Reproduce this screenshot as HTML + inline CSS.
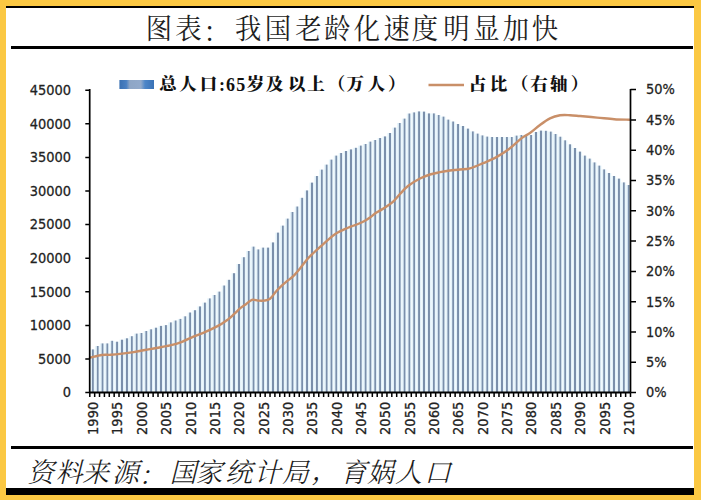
<!DOCTYPE html>
<html><head><meta charset="utf-8">
<style>
html,body{margin:0;padding:0;}
body{width:701px;height:500px;background:#FBC843;position:relative;overflow:hidden;}
.panel{position:absolute;left:6px;top:6px;width:688px;height:489px;background:#fff;}
.bar{position:absolute;background:#000;}
svg{position:absolute;left:0;top:0;}
.ax text{font-family:"DejaVu Sans","Liberation Sans",sans-serif;font-size:13px;fill:#222;stroke:#222;stroke-width:0.25px;}
.tt{font-family:"Liberation Serif","Noto Serif CJK SC",serif;font-size:28px;font-weight:400;fill:#1e1e1e;text-anchor:middle;}
.sr{font-family:"Liberation Serif","Noto Serif CJK SC",serif;font-size:27px;font-weight:300;font-style:italic;fill:#1a1a1a;text-anchor:middle;}
.lgc{font-family:"Liberation Serif","Noto Serif CJK SC",serif;font-size:17.5px;font-weight:900;fill:#111;text-anchor:middle;}
.lgd{font-family:"Liberation Serif","Noto Serif CJK SC",serif;font-size:18px;font-weight:700;fill:#111;text-anchor:middle;}
</style></head><body>
<div class="panel"></div>
<div class="bar" style="left:6px;top:6px;width:688px;height:2px"></div>
<div class="bar" style="left:11px;top:46px;width:682px;height:3.4px"></div>
<div class="bar" style="left:11px;top:446px;width:682px;height:3.4px"></div>
<div class="bar" style="left:6px;top:488.3px;width:688px;height:7px"></div>
<svg width="701" height="500" viewBox="0 0 701 500">
<defs>
<linearGradient id="bg" x1="0" x2="1" y1="0" y2="0">
<stop offset="0" stop-color="#eef9fd"/>
<stop offset="0.3" stop-color="#e0eff8"/>
<stop offset="0.43" stop-color="#7a8fab"/>
<stop offset="0.67" stop-color="#7a8fab"/>
<stop offset="0.8" stop-color="#e0eff8"/>
<stop offset="1" stop-color="#eef9fd"/>
</linearGradient>
<linearGradient id="lgd" x1="0" x2="1" y1="0" y2="0">
<stop offset="0" stop-color="#3a70b2"/>
<stop offset="0.2" stop-color="#4a80c2"/>
<stop offset="0.3" stop-color="#8ea6c6"/>
<stop offset="0.62" stop-color="#92aacb"/>
<stop offset="0.74" stop-color="#4d86c8"/>
<stop offset="1" stop-color="#3a72b6"/>
</linearGradient>
</defs>
<rect x="90.10" y="349.4" width="4.87" height="43.2" fill="url(#bg)"/>
<rect x="94.97" y="346.0" width="4.87" height="46.6" fill="url(#bg)"/>
<rect x="99.84" y="343.4" width="4.87" height="49.2" fill="url(#bg)"/>
<rect x="104.71" y="343.4" width="4.87" height="49.2" fill="url(#bg)"/>
<rect x="109.58" y="340.8" width="4.87" height="51.8" fill="url(#bg)"/>
<rect x="114.46" y="341.7" width="4.87" height="50.9" fill="url(#bg)"/>
<rect x="119.33" y="339.7" width="4.87" height="52.9" fill="url(#bg)"/>
<rect x="124.20" y="338.3" width="4.87" height="54.3" fill="url(#bg)"/>
<rect x="129.07" y="336.2" width="4.87" height="56.4" fill="url(#bg)"/>
<rect x="133.94" y="333.6" width="4.87" height="59.0" fill="url(#bg)"/>
<rect x="138.81" y="333.0" width="4.87" height="59.6" fill="url(#bg)"/>
<rect x="143.68" y="331.0" width="4.87" height="61.6" fill="url(#bg)"/>
<rect x="148.55" y="329.3" width="4.87" height="63.3" fill="url(#bg)"/>
<rect x="153.43" y="327.7" width="4.87" height="64.9" fill="url(#bg)"/>
<rect x="158.30" y="325.9" width="4.87" height="66.7" fill="url(#bg)"/>
<rect x="163.17" y="325.1" width="4.87" height="67.5" fill="url(#bg)"/>
<rect x="168.04" y="322.4" width="4.87" height="70.2" fill="url(#bg)"/>
<rect x="172.91" y="320.5" width="4.87" height="72.1" fill="url(#bg)"/>
<rect x="177.78" y="318.9" width="4.87" height="73.7" fill="url(#bg)"/>
<rect x="182.65" y="316.3" width="4.87" height="76.3" fill="url(#bg)"/>
<rect x="187.52" y="312.5" width="4.87" height="80.1" fill="url(#bg)"/>
<rect x="192.39" y="310.2" width="4.87" height="82.4" fill="url(#bg)"/>
<rect x="197.27" y="306.4" width="4.87" height="86.2" fill="url(#bg)"/>
<rect x="202.14" y="302.6" width="4.87" height="90.0" fill="url(#bg)"/>
<rect x="207.01" y="298.4" width="4.87" height="94.2" fill="url(#bg)"/>
<rect x="211.88" y="295.0" width="4.87" height="97.6" fill="url(#bg)"/>
<rect x="216.75" y="291.6" width="4.87" height="101.0" fill="url(#bg)"/>
<rect x="221.62" y="285.5" width="4.87" height="107.1" fill="url(#bg)"/>
<rect x="226.49" y="279.8" width="4.87" height="112.8" fill="url(#bg)"/>
<rect x="231.36" y="273.2" width="4.87" height="119.4" fill="url(#bg)"/>
<rect x="236.24" y="264.0" width="4.87" height="128.6" fill="url(#bg)"/>
<rect x="241.11" y="257.2" width="4.87" height="135.4" fill="url(#bg)"/>
<rect x="245.98" y="251.0" width="4.87" height="141.6" fill="url(#bg)"/>
<rect x="250.85" y="246.6" width="4.87" height="146.0" fill="url(#bg)"/>
<rect x="255.72" y="249.4" width="4.87" height="143.2" fill="url(#bg)"/>
<rect x="260.59" y="247.6" width="4.87" height="145.0" fill="url(#bg)"/>
<rect x="265.46" y="247.6" width="4.87" height="145.0" fill="url(#bg)"/>
<rect x="270.33" y="242.4" width="4.87" height="150.2" fill="url(#bg)"/>
<rect x="275.20" y="232.6" width="4.87" height="160.0" fill="url(#bg)"/>
<rect x="280.08" y="225.6" width="4.87" height="167.0" fill="url(#bg)"/>
<rect x="284.95" y="218.6" width="4.87" height="174.0" fill="url(#bg)"/>
<rect x="289.82" y="212.0" width="4.87" height="180.6" fill="url(#bg)"/>
<rect x="294.69" y="206.5" width="4.87" height="186.1" fill="url(#bg)"/>
<rect x="299.56" y="197.8" width="4.87" height="194.8" fill="url(#bg)"/>
<rect x="304.43" y="190.4" width="4.87" height="202.2" fill="url(#bg)"/>
<rect x="309.30" y="182.6" width="4.87" height="210.0" fill="url(#bg)"/>
<rect x="314.17" y="176.0" width="4.87" height="216.6" fill="url(#bg)"/>
<rect x="319.05" y="169.6" width="4.87" height="223.0" fill="url(#bg)"/>
<rect x="323.92" y="164.6" width="4.87" height="228.0" fill="url(#bg)"/>
<rect x="328.79" y="159.6" width="4.87" height="233.0" fill="url(#bg)"/>
<rect x="333.66" y="155.6" width="4.87" height="237.0" fill="url(#bg)"/>
<rect x="338.53" y="153.0" width="4.87" height="239.6" fill="url(#bg)"/>
<rect x="343.40" y="151.0" width="4.87" height="241.6" fill="url(#bg)"/>
<rect x="348.27" y="149.4" width="4.87" height="243.2" fill="url(#bg)"/>
<rect x="353.14" y="147.8" width="4.87" height="244.8" fill="url(#bg)"/>
<rect x="358.01" y="145.6" width="4.87" height="247.0" fill="url(#bg)"/>
<rect x="362.89" y="144.0" width="4.87" height="248.6" fill="url(#bg)"/>
<rect x="367.76" y="141.6" width="4.87" height="251.0" fill="url(#bg)"/>
<rect x="372.63" y="140.0" width="4.87" height="252.6" fill="url(#bg)"/>
<rect x="377.50" y="138.0" width="4.87" height="254.6" fill="url(#bg)"/>
<rect x="382.37" y="136.4" width="4.87" height="256.2" fill="url(#bg)"/>
<rect x="387.24" y="133.0" width="4.87" height="259.6" fill="url(#bg)"/>
<rect x="392.11" y="127.6" width="4.87" height="265.0" fill="url(#bg)"/>
<rect x="396.98" y="123.0" width="4.87" height="269.6" fill="url(#bg)"/>
<rect x="401.85" y="118.6" width="4.87" height="274.0" fill="url(#bg)"/>
<rect x="406.73" y="113.5" width="4.87" height="279.1" fill="url(#bg)"/>
<rect x="411.60" y="112.4" width="4.87" height="280.2" fill="url(#bg)"/>
<rect x="416.47" y="111.4" width="4.87" height="281.2" fill="url(#bg)"/>
<rect x="421.34" y="111.6" width="4.87" height="281.0" fill="url(#bg)"/>
<rect x="426.21" y="113.4" width="4.87" height="279.2" fill="url(#bg)"/>
<rect x="431.08" y="113.4" width="4.87" height="279.2" fill="url(#bg)"/>
<rect x="435.95" y="115.0" width="4.87" height="277.6" fill="url(#bg)"/>
<rect x="440.82" y="116.6" width="4.87" height="276.0" fill="url(#bg)"/>
<rect x="445.70" y="119.6" width="4.87" height="273.0" fill="url(#bg)"/>
<rect x="450.57" y="121.5" width="4.87" height="271.1" fill="url(#bg)"/>
<rect x="455.44" y="124.0" width="4.87" height="268.6" fill="url(#bg)"/>
<rect x="460.31" y="126.0" width="4.87" height="266.6" fill="url(#bg)"/>
<rect x="465.18" y="128.6" width="4.87" height="264.0" fill="url(#bg)"/>
<rect x="470.05" y="131.4" width="4.87" height="261.2" fill="url(#bg)"/>
<rect x="474.92" y="133.6" width="4.87" height="259.0" fill="url(#bg)"/>
<rect x="479.79" y="135.4" width="4.87" height="257.2" fill="url(#bg)"/>
<rect x="484.66" y="136.6" width="4.87" height="256.0" fill="url(#bg)"/>
<rect x="489.54" y="137.0" width="4.87" height="255.6" fill="url(#bg)"/>
<rect x="494.41" y="137.0" width="4.87" height="255.6" fill="url(#bg)"/>
<rect x="499.28" y="137.0" width="4.87" height="255.6" fill="url(#bg)"/>
<rect x="504.15" y="137.0" width="4.87" height="255.6" fill="url(#bg)"/>
<rect x="509.02" y="137.0" width="4.87" height="255.6" fill="url(#bg)"/>
<rect x="513.89" y="135.6" width="4.87" height="257.0" fill="url(#bg)"/>
<rect x="518.76" y="135.0" width="4.87" height="257.6" fill="url(#bg)"/>
<rect x="523.63" y="135.3" width="4.87" height="257.3" fill="url(#bg)"/>
<rect x="528.51" y="135.0" width="4.87" height="257.6" fill="url(#bg)"/>
<rect x="533.38" y="132.0" width="4.87" height="260.6" fill="url(#bg)"/>
<rect x="538.25" y="130.6" width="4.87" height="262.0" fill="url(#bg)"/>
<rect x="543.12" y="130.8" width="4.87" height="261.8" fill="url(#bg)"/>
<rect x="547.99" y="131.6" width="4.87" height="261.0" fill="url(#bg)"/>
<rect x="552.86" y="134.0" width="4.87" height="258.6" fill="url(#bg)"/>
<rect x="557.73" y="136.7" width="4.87" height="255.9" fill="url(#bg)"/>
<rect x="562.60" y="140.3" width="4.87" height="252.3" fill="url(#bg)"/>
<rect x="567.47" y="144.3" width="4.87" height="248.3" fill="url(#bg)"/>
<rect x="572.35" y="148.0" width="4.87" height="244.6" fill="url(#bg)"/>
<rect x="577.22" y="151.6" width="4.87" height="241.0" fill="url(#bg)"/>
<rect x="582.09" y="155.6" width="4.87" height="237.0" fill="url(#bg)"/>
<rect x="586.96" y="158.6" width="4.87" height="234.0" fill="url(#bg)"/>
<rect x="591.83" y="162.4" width="4.87" height="230.2" fill="url(#bg)"/>
<rect x="596.70" y="165.6" width="4.87" height="227.0" fill="url(#bg)"/>
<rect x="601.57" y="169.4" width="4.87" height="223.2" fill="url(#bg)"/>
<rect x="606.44" y="173.0" width="4.87" height="219.6" fill="url(#bg)"/>
<rect x="611.32" y="176.0" width="4.87" height="216.6" fill="url(#bg)"/>
<rect x="616.19" y="178.6" width="4.87" height="214.0" fill="url(#bg)"/>
<rect x="621.06" y="182.4" width="4.87" height="210.2" fill="url(#bg)"/>
<rect x="625.93" y="185.0" width="4.87" height="207.6" fill="url(#bg)"/>
<path d="M90.0,357.6 C92.0,357.2 98.2,355.5 101.7,355.0 C105.2,354.5 107.4,355.0 110.8,354.8 C114.2,354.6 118.4,354.1 122.2,353.6 C126.0,353.2 129.9,352.7 133.7,352.1 C137.5,351.5 141.2,350.7 145.0,350.0 C148.8,349.3 152.3,348.8 156.5,348.0 C160.7,347.2 165.8,346.4 170.0,345.4 C174.2,344.4 178.0,343.3 182.0,341.8 C186.0,340.3 190.0,338.1 194.0,336.4 C198.0,334.7 202.0,333.4 206.0,331.6 C210.0,329.9 214.3,327.9 218.0,325.9 C221.7,323.9 225.3,321.3 228.0,319.4 C230.7,317.4 232.0,316.0 234.0,314.2 C236.0,312.4 238.0,310.1 240.0,308.4 C242.0,306.7 244.0,305.6 246.0,304.2 C248.0,302.8 250.0,300.4 252.0,299.8 C254.0,299.2 256.0,300.5 258.0,300.6 C260.0,300.7 262.0,300.9 264.0,300.6 C266.0,300.3 268.0,300.3 270.0,298.8 C272.0,297.3 274.2,293.6 276.0,291.5 C277.8,289.4 279.2,288.0 281.0,286.3 C282.8,284.6 285.0,282.9 287.0,281.2 C289.0,279.5 290.8,278.5 293.0,276.4 C295.2,274.3 297.7,271.3 300.0,268.5 C302.3,265.7 304.7,262.2 307.0,259.5 C309.3,256.8 311.7,254.7 314.0,252.5 C316.3,250.3 318.7,248.3 321.0,246.2 C323.3,244.1 325.5,242.0 328.0,239.9 C330.5,237.8 333.0,235.5 336.0,233.6 C339.0,231.7 343.3,229.8 346.0,228.6 C348.7,227.4 350.0,227.0 352.0,226.2 C354.0,225.4 356.0,224.8 358.0,224.0 C360.0,223.2 362.0,222.4 364.0,221.3 C366.0,220.2 368.0,218.9 370.0,217.5 C372.0,216.1 374.0,214.2 376.0,212.8 C378.0,211.5 380.0,210.6 382.0,209.4 C384.0,208.2 386.0,206.9 388.0,205.5 C390.0,204.1 392.0,202.7 394.0,200.8 C396.0,198.9 397.7,196.5 400.0,194.0 C402.3,191.5 404.7,188.6 408.0,186.0 C411.3,183.4 416.3,180.4 420.0,178.5 C423.7,176.6 426.7,175.6 430.0,174.5 C433.3,173.4 436.7,172.9 440.0,172.2 C443.3,171.5 446.7,170.9 450.0,170.5 C453.3,170.1 456.7,169.9 460.0,169.5 C463.3,169.1 466.2,169.4 470.0,168.3 C473.8,167.2 478.7,165.0 483.0,163.2 C487.3,161.4 491.7,159.8 496.0,157.4 C500.3,155.0 504.7,152.2 509.0,149.0 C513.3,145.8 518.5,140.6 522.0,137.9 C525.5,135.2 527.0,135.2 530.0,133.0 C533.0,130.8 536.7,127.5 540.0,125.0 C543.3,122.5 546.7,119.9 550.0,118.3 C553.3,116.7 556.7,115.8 560.0,115.3 C563.3,114.8 566.7,115.1 570.0,115.2 C573.3,115.3 575.5,115.6 580.0,116.0 C584.5,116.4 591.3,117.1 597.0,117.6 C602.7,118.1 608.8,118.8 614.2,119.2 C619.6,119.6 627.0,119.6 629.6,119.7" fill="none" stroke="#c98f68" stroke-width="2.4" stroke-linejoin="round" stroke-linecap="round"/>
<path d="M89.7,89 V392.6 M630.5,89 V392.6" stroke="#000" stroke-width="1.7" fill="none"/>
<path d="M89.7,392.6 H630.5" stroke="#000" stroke-width="2" fill="none"/>
<path d="M89.80,392.6 V397 M94.67,392.6 V397 M99.54,392.6 V397 M104.41,392.6 V397 M109.28,392.6 V397 M114.16,392.6 V397 M119.03,392.6 V397 M123.90,392.6 V397 M128.77,392.6 V397 M133.64,392.6 V397 M138.51,392.6 V397 M143.38,392.6 V397 M148.25,392.6 V397 M153.13,392.6 V397 M158.00,392.6 V397 M162.87,392.6 V397 M167.74,392.6 V397 M172.61,392.6 V397 M177.48,392.6 V397 M182.35,392.6 V397 M187.22,392.6 V397 M192.09,392.6 V397 M196.97,392.6 V397 M201.84,392.6 V397 M206.71,392.6 V397 M211.58,392.6 V397 M216.45,392.6 V397 M221.32,392.6 V397 M226.19,392.6 V397 M231.06,392.6 V397 M235.94,392.6 V397 M240.81,392.6 V397 M245.68,392.6 V397 M250.55,392.6 V397 M255.42,392.6 V397 M260.29,392.6 V397 M265.16,392.6 V397 M270.03,392.6 V397 M274.90,392.6 V397 M279.78,392.6 V397 M284.65,392.6 V397 M289.52,392.6 V397 M294.39,392.6 V397 M299.26,392.6 V397 M304.13,392.6 V397 M309.00,392.6 V397 M313.87,392.6 V397 M318.75,392.6 V397 M323.62,392.6 V397 M328.49,392.6 V397 M333.36,392.6 V397 M338.23,392.6 V397 M343.10,392.6 V397 M347.97,392.6 V397 M352.84,392.6 V397 M357.71,392.6 V397 M362.59,392.6 V397 M367.46,392.6 V397 M372.33,392.6 V397 M377.20,392.6 V397 M382.07,392.6 V397 M386.94,392.6 V397 M391.81,392.6 V397 M396.68,392.6 V397 M401.55,392.6 V397 M406.43,392.6 V397 M411.30,392.6 V397 M416.17,392.6 V397 M421.04,392.6 V397 M425.91,392.6 V397 M430.78,392.6 V397 M435.65,392.6 V397 M440.52,392.6 V397 M445.40,392.6 V397 M450.27,392.6 V397 M455.14,392.6 V397 M460.01,392.6 V397 M464.88,392.6 V397 M469.75,392.6 V397 M474.62,392.6 V397 M479.49,392.6 V397 M484.36,392.6 V397 M489.24,392.6 V397 M494.11,392.6 V397 M498.98,392.6 V397 M503.85,392.6 V397 M508.72,392.6 V397 M513.59,392.6 V397 M518.46,392.6 V397 M523.33,392.6 V397 M528.21,392.6 V397 M533.08,392.6 V397 M537.95,392.6 V397 M542.82,392.6 V397 M547.69,392.6 V397 M552.56,392.6 V397 M557.43,392.6 V397 M562.30,392.6 V397 M567.17,392.6 V397 M572.05,392.6 V397 M576.92,392.6 V397 M581.79,392.6 V397 M586.66,392.6 V397 M591.53,392.6 V397 M596.40,392.6 V397 M601.27,392.6 V397 M606.14,392.6 V397 M611.02,392.6 V397 M615.89,392.6 V397 M620.76,392.6 V397 M625.63,392.6 V397 M630.50,392.6 V397 M85.3,392.60 H90 M85.3,359.00 H90 M85.3,325.40 H90 M85.3,291.80 H90 M85.3,258.20 H90 M85.3,224.60 H90 M85.3,191.00 H90 M85.3,157.40 H90 M85.3,123.80 H90 M85.3,90.20 H90 M630.5,392.60 H636 M630.5,362.30 H636 M630.5,332.00 H636 M630.5,301.70 H636 M630.5,271.40 H636 M630.5,241.10 H636 M630.5,210.80 H636 M630.5,180.50 H636 M630.5,150.20 H636 M630.5,119.90 H636 M630.5,89.60 H636" stroke="#000" stroke-width="1.5" fill="none"/>
<g class="ax">
<text transform="translate(71,397.4) scale(1,1.13)" text-anchor="end">0</text><text transform="translate(71,363.8) scale(1,1.13)" text-anchor="end">5000</text><text transform="translate(71,330.2) scale(1,1.13)" text-anchor="end">10000</text><text transform="translate(71,296.6) scale(1,1.13)" text-anchor="end">15000</text><text transform="translate(71,263.0) scale(1,1.13)" text-anchor="end">20000</text><text transform="translate(71,229.4) scale(1,1.13)" text-anchor="end">25000</text><text transform="translate(71,195.8) scale(1,1.13)" text-anchor="end">30000</text><text transform="translate(71,162.2) scale(1,1.13)" text-anchor="end">35000</text><text transform="translate(71,128.6) scale(1,1.13)" text-anchor="end">40000</text><text transform="translate(71,95.0) scale(1,1.13)" text-anchor="end">45000</text>
<text transform="translate(646,397.4) scale(1,1.13)">0%</text><text transform="translate(646,367.1) scale(1,1.13)">5%</text><text transform="translate(646,336.8) scale(1,1.13)">10%</text><text transform="translate(646,306.5) scale(1,1.13)">15%</text><text transform="translate(646,276.2) scale(1,1.13)">20%</text><text transform="translate(646,245.9) scale(1,1.13)">25%</text><text transform="translate(646,215.6) scale(1,1.13)">30%</text><text transform="translate(646,185.3) scale(1,1.13)">35%</text><text transform="translate(646,155.0) scale(1,1.13)">40%</text><text transform="translate(646,124.7) scale(1,1.13)">45%</text><text transform="translate(646,94.4) scale(1,1.13)">50%</text>
<text transform="translate(98.0,434.9) rotate(-90) scale(1,1.13)">1990</text><text transform="translate(122.4,434.9) rotate(-90) scale(1,1.13)">1995</text><text transform="translate(146.7,434.9) rotate(-90) scale(1,1.13)">2000</text><text transform="translate(171.1,434.9) rotate(-90) scale(1,1.13)">2005</text><text transform="translate(195.5,434.9) rotate(-90) scale(1,1.13)">2010</text><text transform="translate(219.8,434.9) rotate(-90) scale(1,1.13)">2015</text><text transform="translate(244.2,434.9) rotate(-90) scale(1,1.13)">2020</text><text transform="translate(268.5,434.9) rotate(-90) scale(1,1.13)">2025</text><text transform="translate(292.9,434.9) rotate(-90) scale(1,1.13)">2030</text><text transform="translate(317.2,434.9) rotate(-90) scale(1,1.13)">2035</text><text transform="translate(341.6,434.9) rotate(-90) scale(1,1.13)">2040</text><text transform="translate(366.0,434.9) rotate(-90) scale(1,1.13)">2045</text><text transform="translate(390.3,434.9) rotate(-90) scale(1,1.13)">2050</text><text transform="translate(414.7,434.9) rotate(-90) scale(1,1.13)">2055</text><text transform="translate(439.0,434.9) rotate(-90) scale(1,1.13)">2060</text><text transform="translate(463.4,434.9) rotate(-90) scale(1,1.13)">2065</text><text transform="translate(487.7,434.9) rotate(-90) scale(1,1.13)">2070</text><text transform="translate(512.1,434.9) rotate(-90) scale(1,1.13)">2075</text><text transform="translate(536.4,434.9) rotate(-90) scale(1,1.13)">2080</text><text transform="translate(560.8,434.9) rotate(-90) scale(1,1.13)">2085</text><text transform="translate(585.2,434.9) rotate(-90) scale(1,1.13)">2090</text><text transform="translate(609.5,434.9) rotate(-90) scale(1,1.13)">2095</text><text transform="translate(633.9,434.9) rotate(-90) scale(1,1.13)">2100</text>
</g>
<rect x="119.4" y="80" width="34.6" height="9" fill="url(#lgd)"/>
<path d="M428.5,85 H464" stroke="#c98f68" stroke-width="2.4"/>
<text class="tt" transform="translate(159.00,39.20) scale(0.94,1)">图</text>
<text class="tt" transform="translate(188.40,39.20) scale(0.94,1)">表</text>
<text class="tt" transform="translate(216.60,41.85) scale(0.94,1)">：</text>
<text class="tt" transform="translate(248.25,39.20) scale(0.94,1)">我</text>
<text class="tt" transform="translate(277.80,39.20) scale(0.94,1)">国</text>
<text class="tt" transform="translate(308.40,39.20) scale(0.94,1)">老</text>
<text class="tt" transform="translate(337.50,39.20) scale(0.94,1)">龄</text>
<text class="tt" transform="translate(367.00,39.20) scale(0.94,1)">化</text>
<text class="tt" transform="translate(396.60,39.20) scale(0.94,1)">速</text>
<text class="tt" transform="translate(424.90,39.20) scale(0.94,1)">度</text>
<text class="tt" transform="translate(456.30,39.20) scale(0.94,1)">明</text>
<text class="tt" transform="translate(486.30,39.20) scale(0.94,1)">显</text>
<text class="tt" transform="translate(515.90,39.20) scale(0.94,1)">加</text>
<text class="tt" transform="translate(545.00,39.20) scale(0.94,1)">快</text>
<text class="sr" transform="translate(40.80,481.95)">资</text>
<text class="sr" transform="translate(69.10,481.95)">料</text>
<text class="sr" transform="translate(95.60,481.95)">来</text>
<text class="sr" transform="translate(125.40,481.95)">源</text>
<text class="sr" transform="translate(151.90,485.10)">：</text>
<text class="sr" transform="translate(183.00,481.95)">国</text>
<text class="sr" transform="translate(208.90,481.95)">家</text>
<text class="sr" transform="translate(238.80,481.95)">统</text>
<text class="sr" transform="translate(267.30,481.95)">计</text>
<text class="sr" transform="translate(295.50,481.95)">局</text>
<text class="sr" transform="translate(324.90,479.95)">，</text>
<text class="sr" transform="translate(353.40,481.95)">育</text>
<text class="sr" transform="translate(380.20,481.95)">娲</text>
<text class="sr" transform="translate(408.50,481.95)">人</text>
<text class="sr" transform="translate(437.50,481.95)">口</text>
<text class="lgc" transform="translate(168.05,90.30)">总</text>
<text class="lgc" transform="translate(187.90,90.30)">人</text>
<text class="lgc" transform="translate(208.60,90.30)">口</text>
<text class="lgd" transform="translate(221.90,90.80)">:</text>
<text class="lgd" transform="translate(230.45,90.80)">6</text>
<text class="lgd" transform="translate(240.75,90.80)">5</text>
<text class="lgc" transform="translate(255.45,90.30)">岁</text>
<text class="lgc" transform="translate(274.55,90.30)">及</text>
<text class="lgc" transform="translate(296.75,90.30)">以</text>
<text class="lgc" transform="translate(316.10,90.30)">上</text>
<text class="lgc" transform="translate(336.45,90.30)">（</text>
<text class="lgc" transform="translate(355.20,90.30)">万</text>
<text class="lgc" transform="translate(376.40,90.30)">人</text>
<text class="lgc" transform="translate(396.80,90.30)">）</text>
<text class="lgc" transform="translate(477.50,90.30)">占</text>
<text class="lgc" transform="translate(498.50,90.30)">比</text>
<text class="lgc" transform="translate(519.75,90.30)">（</text>
<text class="lgc" transform="translate(539.00,90.30)">右</text>
<text class="lgc" transform="translate(558.75,90.30)">轴</text>
<text class="lgc" transform="translate(579.50,90.30)">）</text>
</svg>
</body></html>
